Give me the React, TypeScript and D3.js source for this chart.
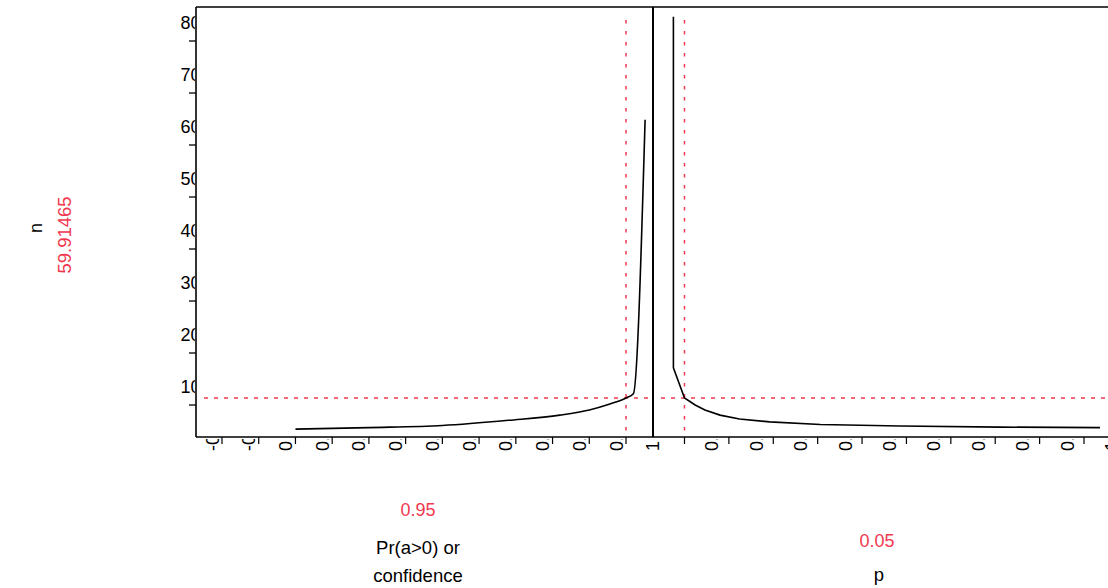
import React from 'react';
import * as d3 from 'd3';

const W = 1108;
const H = 588;

// y axis (n)
const yTickValues = [10, 20, 30, 40, 50, 60, 70, 80];

// left panel: confidence
const leftTickValues = [0.4, 0.45, 0.5, 0.55, 0.6, 0.65, 0.7, 0.75, 0.8, 0.85, 0.9, 0.95, 1.0];
const leftTickLabels = ['-0.2', '-0.1', '0', '0.1', '0.2', '0.3', '0.4', '0.5', '0.6', '0.7', '0.8', '0.9', '1'];
const leftConf = [0.5, 0.6, 0.7, 0.79, 0.86, 0.9, 0.927, 0.95, 0.96, 0.976];
const leftN = [1.7, 2.0, 2.4, 3.4, 4.4, 5.4, 6.5, 7.7, 8.5, 61.2];

// right panel: p
const rightTickValues = [0.05, 0.1, 0.15, 0.2, 0.25, 0.3, 0.35, 0.4, 0.45, 0.5, 0.55];
const rightTickLabels = ['', '0.1', '0.2', '0.3', '0.4', '0.5', '0.6', '0.7', '0.8', '0.9', '1'];
const rightP = [0.0375, 0.0375, 0.05, 0.062, 0.073, 0.09, 0.112, 0.146, 0.203, 0.293, 0.405, 0.518];
const rightN = [81, 13.5, 7.7, 6.35, 5.4, 4.4, 3.65, 3.1, 2.6, 2.3, 2.1, 2.0];

// reference values
const confLevel = 0.95;
const pLevel = 0.05;
const nLevel = 7.7;
const nLabel = '59.91465';
const confLabel = '0.95';
const pLabel = '0.05';

const FONT = "'Liberation Sans', Arial, Helvetica, sans-serif";
const RED = '#f0384f';

export default function App() {
  const top = 7;
  const bottom = 437;
  const left = 196;
  const divider = 653;

  const y = d3.scaleLinear().domain([0, 80]).range([438, 22]);
  const xL = d3.scaleLinear().domain([0.4, 0.95]).range([222, 626]);
  const xR = d3.scaleLinear().domain([0.05, 0.5]).range([684.5, 1084]);

  const lineL = d3
    .line<number>()
    .x((_, i) => xL(leftConf[i]))
    .y((d) => y(d))
    .curve(d3.curveMonotoneX);
  const lineR = d3.line<number>().x((_, i) => xR(rightP[i])).y((d) => y(d));

  const fs = 18;

  return (
    <svg
      width={W}
      height={H}
      style={{ position: 'absolute', left: 0, top: 0, background: '#fff' }}
      fontFamily={FONT}
    >
      <defs>
        <clipPath id="ylab">
          <rect x={0} y={0} width={195} height={H} />
        </clipPath>
        <clipPath id="xlabL">
          <rect x={left} y={439} width={W - left} height={14} />
        </clipPath>
        <clipPath id="leftPanel">
          <rect x={left} y={0} width={divider - left} height={H} />
        </clipPath>
        <clipPath id="rightPanel">
          <rect x={divider} y={0} width={W - divider} height={H} />
        </clipPath>
      </defs>

      {/* y axis label texts */}
      <text transform={`translate(42, 228) rotate(-90)`} textAnchor="middle" fontSize={18} fill="#000">
        n
      </text>
      <text transform={`translate(70.5, 235) rotate(-90)`} textAnchor="middle" fontSize={18.5} fill={RED}>
        {nLabel}
      </text>

      {/* y ticks & labels */}
      <g clipPath="url(#ylab)">
        {yTickValues.map((v) => (
          <text key={v} x={200.5} y={y(v) + 6.5} textAnchor="end" fontSize={fs} fill="#000">
            {v}
          </text>
        ))}
      </g>
      {yTickValues.map((v) => (
        <line key={v} x1={189} x2={left} y1={y(v) + 19} y2={y(v) + 19} stroke="#000" strokeWidth={1.3} />
      ))}

      {/* red reference lines */}
      <g clipPath="url(#leftPanel)">
        <line x1={204} x2={648} y1={y(nLevel)} y2={y(nLevel)} stroke={RED} strokeWidth={1.5} strokeDasharray="4 6" />
        <line x1={xL(confLevel)} x2={xL(confLevel)} y1={20} y2={bottom} stroke={RED} strokeWidth={1.5} strokeDasharray="3.5 7.5" />
      </g>
      <g clipPath="url(#rightPanel)">
        <line x1={661} x2={W} y1={y(nLevel)} y2={y(nLevel)} stroke={RED} strokeWidth={1.5} strokeDasharray="4 6" />
        <line x1={xR(pLevel)} x2={xR(pLevel)} y1={20} y2={bottom} stroke={RED} strokeWidth={1.5} strokeDasharray="3.5 7.5" />
      </g>

      {/* curves */}
      <path d={lineL(leftN) || ''} fill="none" stroke="#000" strokeWidth={1.6} />
      <path d={lineR(rightN) || ''} fill="none" stroke="#000" strokeWidth={1.6} />

      {/* frame */}
      <line x1={left} x2={W} y1={top} y2={top} stroke="#000" strokeWidth={1.6} />
      <line x1={left} x2={left} y1={top} y2={bottom} stroke="#000" strokeWidth={1.6} />
      <line x1={left} x2={W} y1={bottom} y2={bottom} stroke="#000" strokeWidth={1.6} />
      <line x1={divider} x2={divider} y1={top} y2={bottom} stroke="#000" strokeWidth={2} />

      {/* x ticks */}
      <g clipPath="url(#leftPanel)">
        {leftTickValues.map((v) => (
          <line key={v} x1={xL(v)} x2={xL(v)} y1={bottom} y2={444} stroke="#000" strokeWidth={1.2} />
        ))}
      </g>
      <g clipPath="url(#rightPanel)">
        {rightTickValues.map((v) => (
          <line key={v} x1={xR(v)} x2={xR(v)} y1={bottom} y2={444} stroke="#000" strokeWidth={1.2} />
        ))}
      </g>

      {/* x tick labels (clipped) */}
      <g clipPath="url(#xlabL)">
        {leftTickValues.map((v, i) => (
          <text
            key={'l' + v}
            transform={`translate(${xL(v) - 3.5}, 451) rotate(-90)`}
            textAnchor="start"
            fontSize={fs}
            fill="#000"
          >
            {leftTickLabels[i]}
          </text>
        ))}
        {rightTickValues.map((v, i) => (
          <text
            key={'r' + v}
            transform={`translate(${xR(v) - 10.5}, 451) rotate(-90)`}
            textAnchor="start"
            fontSize={fs}
            fill="#000"
          >
            {rightTickLabels[i]}
          </text>
        ))}
      </g>

      {/* bottom texts */}
      <text x={418} y={516} textAnchor="middle" fontSize={18} fill={RED}>
        {confLabel}
      </text>
      <text x={418} y={554} textAnchor="middle" fontSize={18.5} fill="#000">
        Pr(a&gt;0) or
      </text>
      <text x={418} y={582} textAnchor="middle" fontSize={18.5} fill="#000">
        confidence
      </text>
      <text x={877} y={547} textAnchor="middle" fontSize={18} fill={RED}>
        {pLabel}
      </text>
      <text x={879} y={581} textAnchor="middle" fontSize={18.5} fill="#000">
        p
      </text>
    </svg>
  );
}
